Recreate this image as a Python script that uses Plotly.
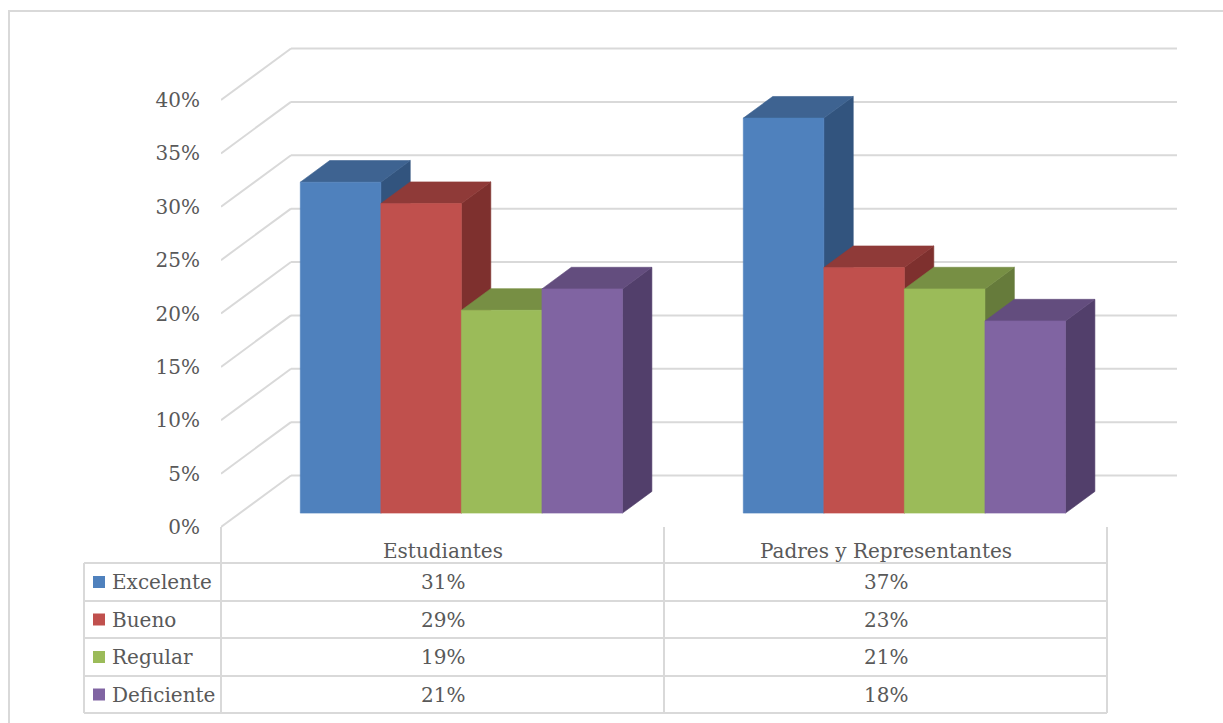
import plotly.graph_objects as go

# ---------------- data ----------------
groups = ["Estudiantes", "Padres y Representantes"]
series_names = ["Excelente", "Bueno", "Regular", "Deficiente"]
values = {
    "Excelente": [31, 37],
    "Bueno": [29, 23],
    "Regular": [19, 21],
    "Deficiente": [21, 18],
}
y_ticks = [0, 5, 10, 15, 20, 25, 30, 35, 40]
y_tick_labels = ["0%", "5%", "10%", "15%", "20%", "25%", "30%", "35%", "40%"]

front_colors = {"Excelente": "#4F81BD", "Bueno": "#C0504D", "Regular": "#9BBB59", "Deficiente": "#8064A2"}
top_colors = {"Excelente": "#3E6391", "Bueno": "#8F3A38", "Regular": "#778F44", "Deficiente": "#634D7E"}
side_colors = {"Excelente": "#32547E", "Bueno": "#7E302E", "Regular": "#667B3B", "Deficiente": "#523F6B"}

# ---------------- geometry ----------------
W, H = 1223, 723
X0PX = 221          # pixel of category axis start
UX = 443            # pixels per category
Y0PX = 527          # pixel of 0% on front plane
UY = 10.675         # pixels per percent
DX = 70 / UX        # full depth offset (x units)
DY = 51.5 / UY      # full depth offset (y units)
D1, D2 = 0.27, 0.69 # bar depth start/end
BW = 1 / 5.5        # bar width
GAP = 0.75 / 5.5

GRID = "#D9D9D9"
TXT = "#595959"
FONT = "DejaVu Serif"


def pxp(p):
    return p / W


def pyp(p):
    return 1 - p / H


fig = go.Figure()

# bars as 3D boxes, drawn left to right
for si, s in enumerate(series_names):
    fx, fy, tx, ty, sx, sy = [], [], [], [], [], []
    for gi, g in enumerate(groups):
        v = values[s][gi]
        x0 = gi + GAP + si * BW
        x1 = x0 + BW
        a, b = D1 * DX, D2 * DX
        c, d = D1 * DY, D2 * DY
        sx += [x1 + a, x1 + b, x1 + b, x1 + a, x1 + a, None]
        sy += [c, d, v + d, v + c, c, None]
        tx += [x0 + a, x1 + a, x1 + b, x0 + b, x0 + a, None]
        ty += [v + c, v + c, v + d, v + d, v + c, None]
        fx += [x0 + a, x1 + a, x1 + a, x0 + a, x0 + a, None]
        fy += [c, c, v + c, v + c, c, None]
    for xs, ys, col in ((sx, sy, side_colors[s]), (tx, ty, top_colors[s]), (fx, fy, front_colors[s])):
        fig.add_trace(go.Scatter(
            x=xs, y=ys, mode="lines", fill="toself", fillcolor=col,
            line=dict(color=col, width=0.6), hoverinfo="skip", showlegend=False,
        ))

shapes = []
# back wall gridlines and side-wall diagonals
for v in y_ticks:
    shapes.append(dict(type="line", xref="x", yref="y", x0=DX, x1=2 + DX, y0=v + DY, y1=v + DY,
                       line=dict(color=GRID, width=2), layer="below"))
    shapes.append(dict(type="line", xref="x", yref="y", x0=0, x1=DX, y0=v, y1=v + DY,
                       line=dict(color=GRID, width=2), layer="below"))

# data table (paper coordinates)
x_tab_left = pxp(84)
col_px = [X0PX + k * UX for k in range(len(groups) + 1)]
row_lines = [563, 601, 638, 676, 713]
for rp in row_lines:
    shapes.append(dict(type="line", xref="paper", yref="paper", x0=x_tab_left, x1=pxp(col_px[-1]),
                       y0=pyp(rp), y1=pyp(rp), line=dict(color=GRID, width=2)))
for cp in col_px:
    shapes.append(dict(type="line", xref="paper", yref="paper", x0=pxp(cp), x1=pxp(cp),
                       y0=pyp(Y0PX), y1=pyp(713), line=dict(color=GRID, width=2)))
shapes.append(dict(type="line", xref="paper", yref="paper", x0=x_tab_left, x1=x_tab_left,
                   y0=pyp(563), y1=pyp(713), line=dict(color=GRID, width=2)))

# outer chart border
shapes.append(dict(type="rect", xref="paper", yref="paper", x0=pxp(9), x1=1.02, y0=pyp(11), y1=-0.02,
                   line=dict(color=GRID, width=2)))

annotations = []
for gi, g in enumerate(groups):
    annotations.append(dict(x=pxp(col_px[gi] + UX / 2), y=pyp(551), xref="paper", yref="paper", text=g,
                            showarrow=False, font=dict(family=FONT, size=20, color=TXT),
                            xanchor="center", yanchor="middle"))

row_centers = [582, 619.5, 657, 694.5]
for si, s in enumerate(series_names):
    yc = row_centers[si]
    shapes.append(dict(type="rect", xref="paper", yref="paper", x0=pxp(93), x1=pxp(105),
                       y0=pyp(yc + 6), y1=pyp(yc - 6), fillcolor=front_colors[s], line=dict(width=0)))
    annotations.append(dict(x=pxp(110), y=pyp(yc), xref="paper", yref="paper", text=s, showarrow=False,
                            font=dict(family=FONT, size=20, color=TXT), xanchor="left", yanchor="middle"))
    for gi in range(len(groups)):
        annotations.append(dict(x=pxp(col_px[gi] + UX / 2), y=pyp(yc), xref="paper", yref="paper",
                                text=f"{values[s][gi]}%", showarrow=False,
                                font=dict(family=FONT, size=20, color=TXT), xanchor="center", yanchor="middle"))

fig.update_layout(
    width=W, height=H,
    margin=dict(l=0, r=0, t=0, b=0, autoexpand=False),
    paper_bgcolor="white", plot_bgcolor="white",
    showlegend=False,
    shapes=shapes, annotations=annotations,
    xaxis=dict(domain=[X0PX / W, 1], range=[0, (W - X0PX) / UX], visible=False, fixedrange=True),
    yaxis=dict(domain=[0, 1], range=[(Y0PX - H) / UY, Y0PX / UY], showgrid=False, zeroline=False,
               showline=False, tickmode="array", tickvals=y_ticks, ticktext=y_tick_labels,
               ticks="", ticklabelstandoff=20, tickfont=dict(family=FONT, size=20, color=TXT),
               fixedrange=True),
)

fig.write_html("out.html", config={"displayModeBar": False},
               post_script="document.body.style.margin='0';document.body.style.overflow='hidden';")
